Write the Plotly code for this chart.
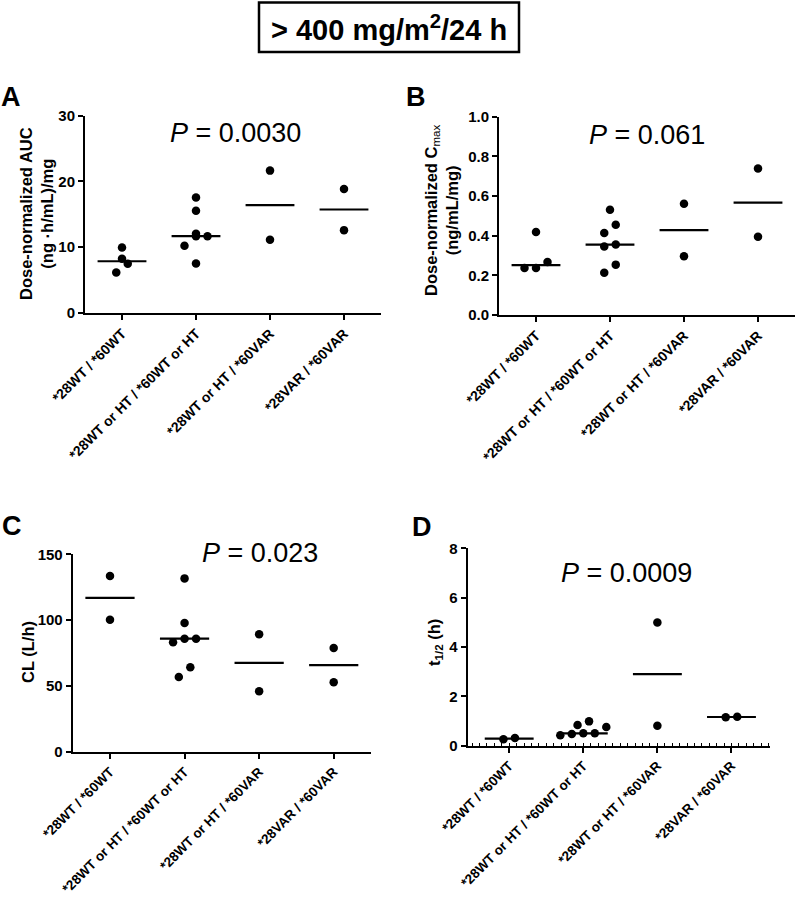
import plotly.graph_objects as go
import numpy as np

W, H = 798, 900

# ---------------- data ----------------
categories = ["*28WT / *60WT", "*28WT or HT / *60WT or HT",
              "*28WT or HT / *60VAR", "*28VAR / *60VAR"]

auc_values = [[9.97, 6.17, 7.49, 8.25],
              [17.55, 15.53, 12.04, 11.68, 11.68, 10.22, 7.54],
              [21.65, 11.13],
              [18.87, 12.60]]
cmax_values = [[0.418, 0.267, 0.237, 0.237],
               [0.531, 0.455, 0.413, 0.355, 0.346, 0.254, 0.213],
               [0.561, 0.296],
               [0.739, 0.395]]
cl_values = [[133.5, 100.3],
             [131.7, 97.8, 85.9, 85.9, 83.1, 64.1, 56.8],
             [89.2, 45.9],
             [78.8, 52.7]]
thalf_values = [[0.257, 0.311],
                [0.986, 0.838, 0.757, 0.50, 0.50, 0.473, 0.419],
                [4.99, 0.81],
                [1.149, 1.176]]

p_texts = ["<i>P</i> = 0.0030", "<i>P</i> = 0.061", "<i>P</i> = 0.023", "<i>P</i> = 0.0009"]
panel_letters = ["A", "B", "C", "D"]
y_titles = ["<b>Dose-normalized AUC<br>(ng ·h/mL)/mg</b>",
            "<b>Dose-normalized C</b><sub>max</sub><br><b>(ng/mL/mg)</b>",
            "<b>CL (L/h)</b>",
            "<b>t</b><sub><b>1/2</b></sub><b> (h)</b>"]
y_ranges = [[0, 30], [0, 1.0], [0, 150], [0, 8]]
y_dticks = [10, 0.2, 50, 2]
y_formats = ["d", ".1f", "d", "d"]
fig_title = "<b>&gt; 400 mg/m<sup>2</sup>/24 h</b>"

# ---------------- layout geometry (pixels) ----------------
panels = [
    dict(data=auc_values, xd=(85, 381), yd=(115.7, 313), xr=[-0.5, 3.5], xfs=14,
         ptxt=(235, 133), letter=(11, 97), ytl=(37, 214)),
    dict(data=cmax_values, xd=(499, 795), yd=(116.7, 315), xr=[-0.5, 3.5], xfs=14,
         ptxt=(647, 135), letter=(416, 97), ytl=(441, 211)),
    dict(data=cl_values, xd=(72.7, 371), yd=(554.3, 751.7), xr=[-0.5, 3.5], xfs=13.5,
         ptxt=(260, 553), letter=(12, 526), ytl=(28, 652)),
    dict(data=thalf_values, xd=(467.7, 770), yd=(548.3, 745.7), xr=[-0.56, 3.52], xfs=13.5,
         ptxt=(626, 573), letter=(422, 527), ytl=(435, 643)),
]

def fx(px):
    return px / W

def fy(py):
    return 1 - py / H

FONT = "Liberation Sans, Arial, sans-serif"

def swarm_offsets(vals, ppu_y, ppu_x, thresh=10.0, spacing=11.5):
    order = sorted(range(len(vals)), key=lambda i: vals[i])
    rows = []
    for i in order:
        if rows and (vals[i] - vals[rows[-1][0]]) * ppu_y < thresh:
            rows[-1].append(i)
        else:
            rows.append([i])
    offs = [0.0] * len(vals)
    for row in rows:
        k = len(row)
        for j, idx in enumerate(row):
            offs[idx] = (j - (k - 1) / 2) * spacing / ppu_x
    return offs

fig = go.Figure()
layout = dict(width=W, height=H,
              margin=dict(l=0, r=0, t=0, b=0, pad=0, autoexpand=False),
              paper_bgcolor="white", plot_bgcolor="white", showlegend=False,
              font=dict(family=FONT, color="black", size=14))
annotations = []

for k, p in enumerate(panels):
    sfx = "" if k == 0 else str(k + 1)
    xa, ya = "x" + sfx, "y" + sfx
    ppu_x = (p["xd"][1] - p["xd"][0]) / (p["xr"][1] - p["xr"][0])
    ppu_y = (p["yd"][1] - p["yd"][0]) / (y_ranges[k][1] - y_ranges[k][0])
    xs, ys = [], []
    for gi, vals in enumerate(p["data"]):
        offs = swarm_offsets(vals, ppu_y, ppu_x)
        xs += [gi + o for o in offs]
        ys += list(vals)
        med = float(np.median(vals))
        fig.add_trace(go.Scatter(x=[gi - 0.33, gi + 0.33], y=[med, med], mode="lines",
                                 line=dict(color="black", width=2.2),
                                 xaxis=xa, yaxis=ya, hoverinfo="skip"))
    fig.add_trace(go.Scatter(x=xs, y=ys, mode="markers",
                             marker=dict(color="black", size=8.5, line=dict(width=0)),
                             xaxis=xa, yaxis=ya))
    xaxis = dict(domain=[fx(p["xd"][0]), fx(p["xd"][1])], range=p["xr"],
                 anchor=ya, tickmode="array", tickvals=list(range(len(categories))),
                 ticktext=["<b>%s</b>" % c for c in categories], tickangle=-45,
                 tickfont=dict(size=p["xfs"], family=FONT, color="black"),
                 showline=True, linecolor="black", linewidth=2,
                 ticks="outside", ticklen=5, tickwidth=2, tickcolor="black",
                 showgrid=False, zeroline=False, fixedrange=True, automargin=False)
    if k == 3:
        xaxis["minor"] = dict(ticks="inside", ticklen=2.5, tickwidth=1, tickcolor="black",
                              tick0=-0.5, dtick=0.1, showgrid=False)
    yaxis = dict(domain=[fy(p["yd"][1]), fy(p["yd"][0])], range=y_ranges[k],
                 anchor=xa, dtick=y_dticks[k], tick0=0, tickformat=y_formats[k],
                 tickfont=dict(size=15, family=FONT, color="black", weight="bold"),
                 showline=True, linecolor="black", linewidth=2,
                 ticks="outside", ticklen=5, tickwidth=2, tickcolor="black",
                 showgrid=False, zeroline=False, fixedrange=True, automargin=False)
    layout["xaxis" + sfx] = xaxis
    layout["yaxis" + sfx] = yaxis

    annotations.append(dict(text=p_texts[k], x=fx(p["ptxt"][0]), y=fy(p["ptxt"][1]),
                            xref="paper", yref="paper", showarrow=False,
                            xanchor="center", yanchor="middle",
                            font=dict(size=27, family=FONT, color="black")))
    annotations.append(dict(text="<b>%s</b>" % panel_letters[k], x=fx(p["letter"][0]),
                            y=fy(p["letter"][1]), xref="paper", yref="paper",
                            showarrow=False, xanchor="center", yanchor="middle",
                            font=dict(size=27, family=FONT, color="black")))
    annotations.append(dict(text=y_titles[k], x=fx(p["ytl"][0]), y=fy(p["ytl"][1]),
                            xref="paper", yref="paper", showarrow=False, textangle=-90,
                            xanchor="center", yanchor="middle",
                            font=dict(size=16.5, family=FONT, color="black")))

annotations.append(dict(text=fig_title, x=fx(389), y=fy(28), xref="paper", yref="paper",
                        showarrow=False, xanchor="center", yanchor="middle",
                        font=dict(size=29, family=FONT, color="black")))
layout["annotations"] = annotations
layout["shapes"] = [dict(type="rect", xref="paper", yref="paper",
                         x0=fx(259), x1=fx(519), y0=fy(52), y1=fy(2.5),
                         line=dict(color="black", width=2.5), fillcolor="rgba(0,0,0,0)")]

fig.update_layout(**layout)
fig.write_html("out.html", config={"displayModeBar": False},
               post_script="document.body.style.margin='0';document.body.style.padding='0';")
